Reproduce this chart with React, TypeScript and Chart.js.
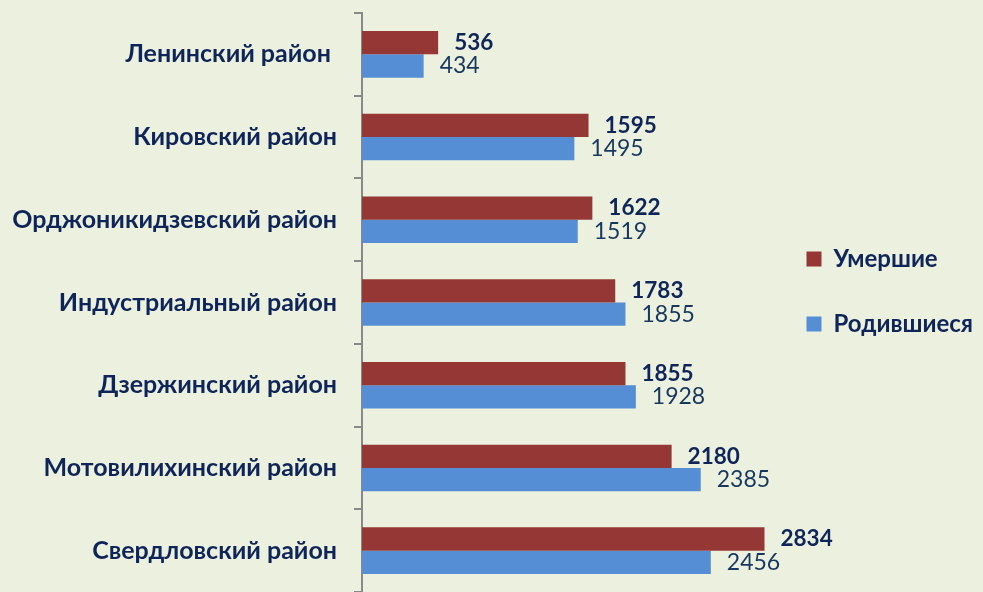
import React, { useEffect, useRef } from "react";
import { Chart, registerables } from "chart.js";

Chart.register(...registerables);

const categories = [
  "Ленинский район ",
  "Кировский район",
  "Орджоникидзевский район",
  "Индустриальный район",
  "Дзержинский район",
  "Мотовилихинский район",
  "Свердловский район",
];
const deaths = [536, 1595, 1622, 1783, 1855, 2180, 2834];
const births = [434, 1495, 1519, 1855, 1928, 2385, 2456];
const seriesNames = ["Умершие", "Родившиеся"];

const FONT = "Lato, 'Noto Sans', sans-serif";
const NAVY = "#0F2559";

const valueLabels = {
  id: "valueLabels",
  afterDatasetsDraw(chart: any) {
    const ctx = chart.ctx;
    chart.data.datasets.forEach((ds: any, di: number) => {
      const meta = chart.getDatasetMeta(di);
      meta.data.forEach((bar: any, i: number) => {
        ctx.save();
        ctx.font = di === 0 ? `bold 22.5px ${FONT}` : `23px ${FONT}`;
        ctx.fillStyle = di === 0 ? NAVY : "#17375E";
        ctx.textAlign = "left";
        ctx.textBaseline = "middle";
        ctx.fillText(String(ds.data[i]), bar.x + 16, bar.y);
        ctx.restore();
      });
    });
  },
};

export default function App() {
  const ref = useRef<HTMLCanvasElement | null>(null);
  useEffect(() => {
    if (!ref.current) return;
    const chart = new Chart(ref.current, {
      type: "bar",
      data: {
        labels: categories,
        datasets: [
          { label: seriesNames[0], data: deaths, backgroundColor: "#953735", borderWidth: 0 },
          { label: seriesNames[1], data: births, backgroundColor: "#558ED5", borderWidth: 0 },
        ],
      },
      options: {
        indexAxis: "y",
        animation: false,
        responsive: false,
        maintainAspectRatio: false,
        devicePixelRatio: 1,
        categoryPercentage: 0.563,
        barPercentage: 1,
        layout: { padding: { top: -14, bottom: -5, left: 0, right: 0 } },
        scales: {
          x: { display: false, min: 0, max: 2841 },
          y: {
            afterFit: (scale: any) => {
              scale.width = 362;
              scale.paddingTop = 0;
              scale.paddingBottom = 0;
            },
            border: { display: true, color: "#898989", width: 2 },
            grid: {
              display: true,
              drawOnChartArea: false,
              drawTicks: true,
              tickLength: 8,
              color: "#898989",
              lineWidth: 2,
            },
            ticks: {
              padding: 17,
              color: NAVY,
              font: { family: FONT, size: 25, weight: "bold" },
            },
          },
        },
        plugins: {
          title: {
            display: true,
            text: "",
            padding: { top: 17, bottom: 0 },
            font: { size: 10, lineHeight: 1 },
          },
          tooltip: { enabled: false },
          legend: {
            position: "right",
            align: "center",
            labels: {
              boxWidth: 15,
              boxHeight: 15,
              padding: 41,
              color: NAVY,
              font: { family: FONT, size: 24, weight: "bold" },
            },
          },
        },
      },
      plugins: [valueLabels],
    });
    return () => chart.destroy();
  }, []);
  return (
    <div
      style={{
        position: "fixed",
        left: 0,
        top: 0,
        width: 983,
        height: 592,
        overflow: "hidden",
        background: "#EBF1DE",
      }}
    >
      <canvas ref={ref} width={983} height={592} style={{ display: "block", width: 983, height: 592 }} />
    </div>
  );
}
